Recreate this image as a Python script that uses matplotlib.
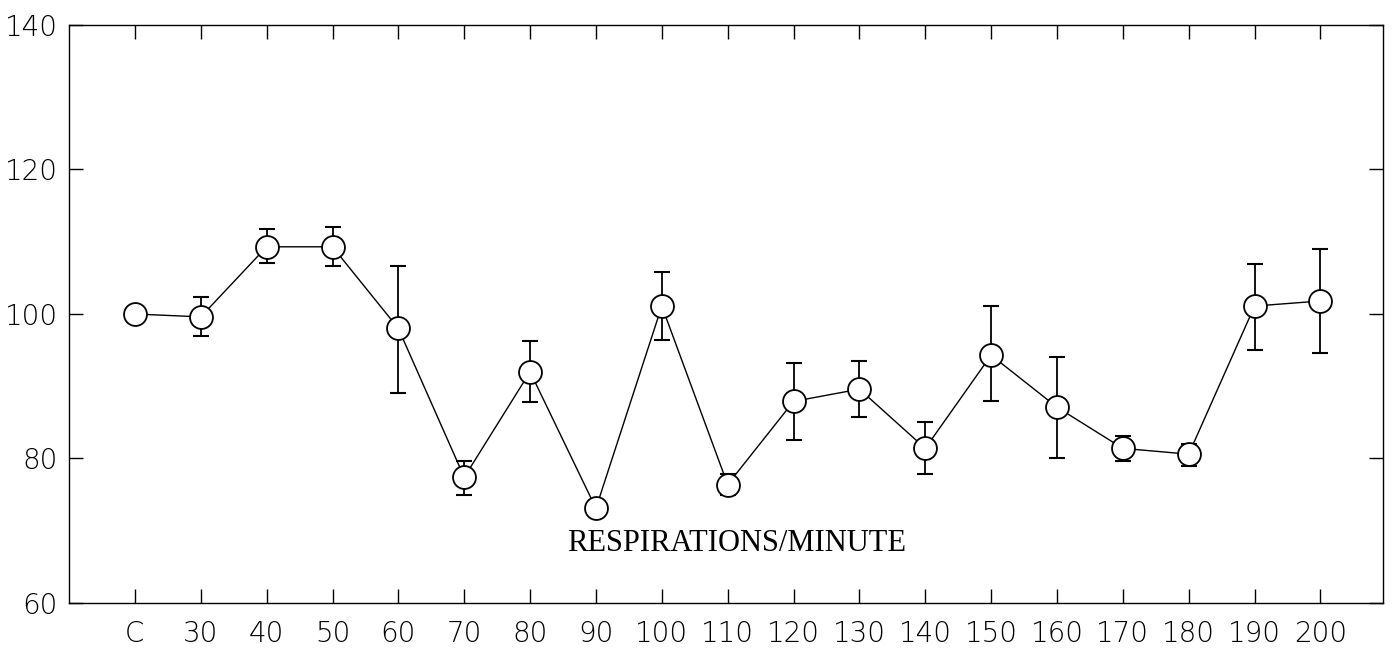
import matplotlib
matplotlib.use("Agg")
import matplotlib.pyplot as plt
import numpy as np

categories = ["C", "30", "40", "50", "60", "70", "80", "90", "100", "110",
              "120", "130", "140", "150", "160", "170", "180", "190", "200"]
means = [100.0, 99.6, 109.3, 109.3, 98.0, 77.4, 92.0, 73.1, 101.1, 76.4,
         87.9, 89.6, 81.4, 94.3, 87.1, 81.4, 80.6, 101.1, 101.8]
err_upper = [100.0, 102.3, 111.7, 112.1, 106.7, 79.6, 96.3, 73.1, 105.8, 77.8,
             93.2, 93.5, 85.0, 101.1, 94.0, 83.1, 82.0, 106.9, 109.0]
err_lower = [100.0, 97.0, 107.0, 106.7, 89.0, 75.0, 87.8, 73.1, 96.4, 75.0,
             82.6, 85.7, 77.8, 87.9, 80.1, 79.6, 79.0, 95.0, 94.6]
yticks = [60, 80, 100, 120, 140]
label_text = "RESPIRATIONS/MINUTE"

x = np.arange(len(categories))
m = np.array(means)
yerr = np.vstack([m - np.array(err_lower), np.array(err_upper) - m])

fig = plt.figure(figsize=(13.95, 6.56), dpi=100)
ax = fig.add_axes([0.0495, 0.0808, 0.9419, 0.8811])

ax.errorbar(x, m, yerr=yerr, fmt="none", ecolor="black", elinewidth=1.3,
            capsize=5.5, capthick=1.5, zorder=2)
ax.plot(x, m, color="black", linewidth=1.0, marker="o", markersize=16.5,
        markerfacecolor="white", markeredgecolor="black", markeredgewidth=1.3,
        zorder=3)

ax.set_xlim(-1, 18.95)
ax.set_ylim(60, 140)
ax.set_xticks(x)
ax.set_xticklabels(categories)
ax.set_yticks(yticks)

for lab in ax.get_xticklabels() + ax.get_yticklabels():
    lab.set_fontfamily("DejaVu Sans")
    lab.set_fontsize(20)
    lab.set_fontweight("ultralight")
    lab.set_color("black")

ax.tick_params(axis="both", direction="in", length=10, width=1.0,
               top=True, right=True, labeltop=False, labelright=False)
ax.tick_params(axis="x", pad=12)
ax.tick_params(axis="y", pad=8)

for s in ax.spines.values():
    s.set_linewidth(1.0)
    s.set_color("black")

ax.text(9.14, 68.2, label_text, ha="center", va="center",
        fontfamily="Liberation Serif", fontsize=22, color="black")

fig.savefig("out.png", dpi=100)
